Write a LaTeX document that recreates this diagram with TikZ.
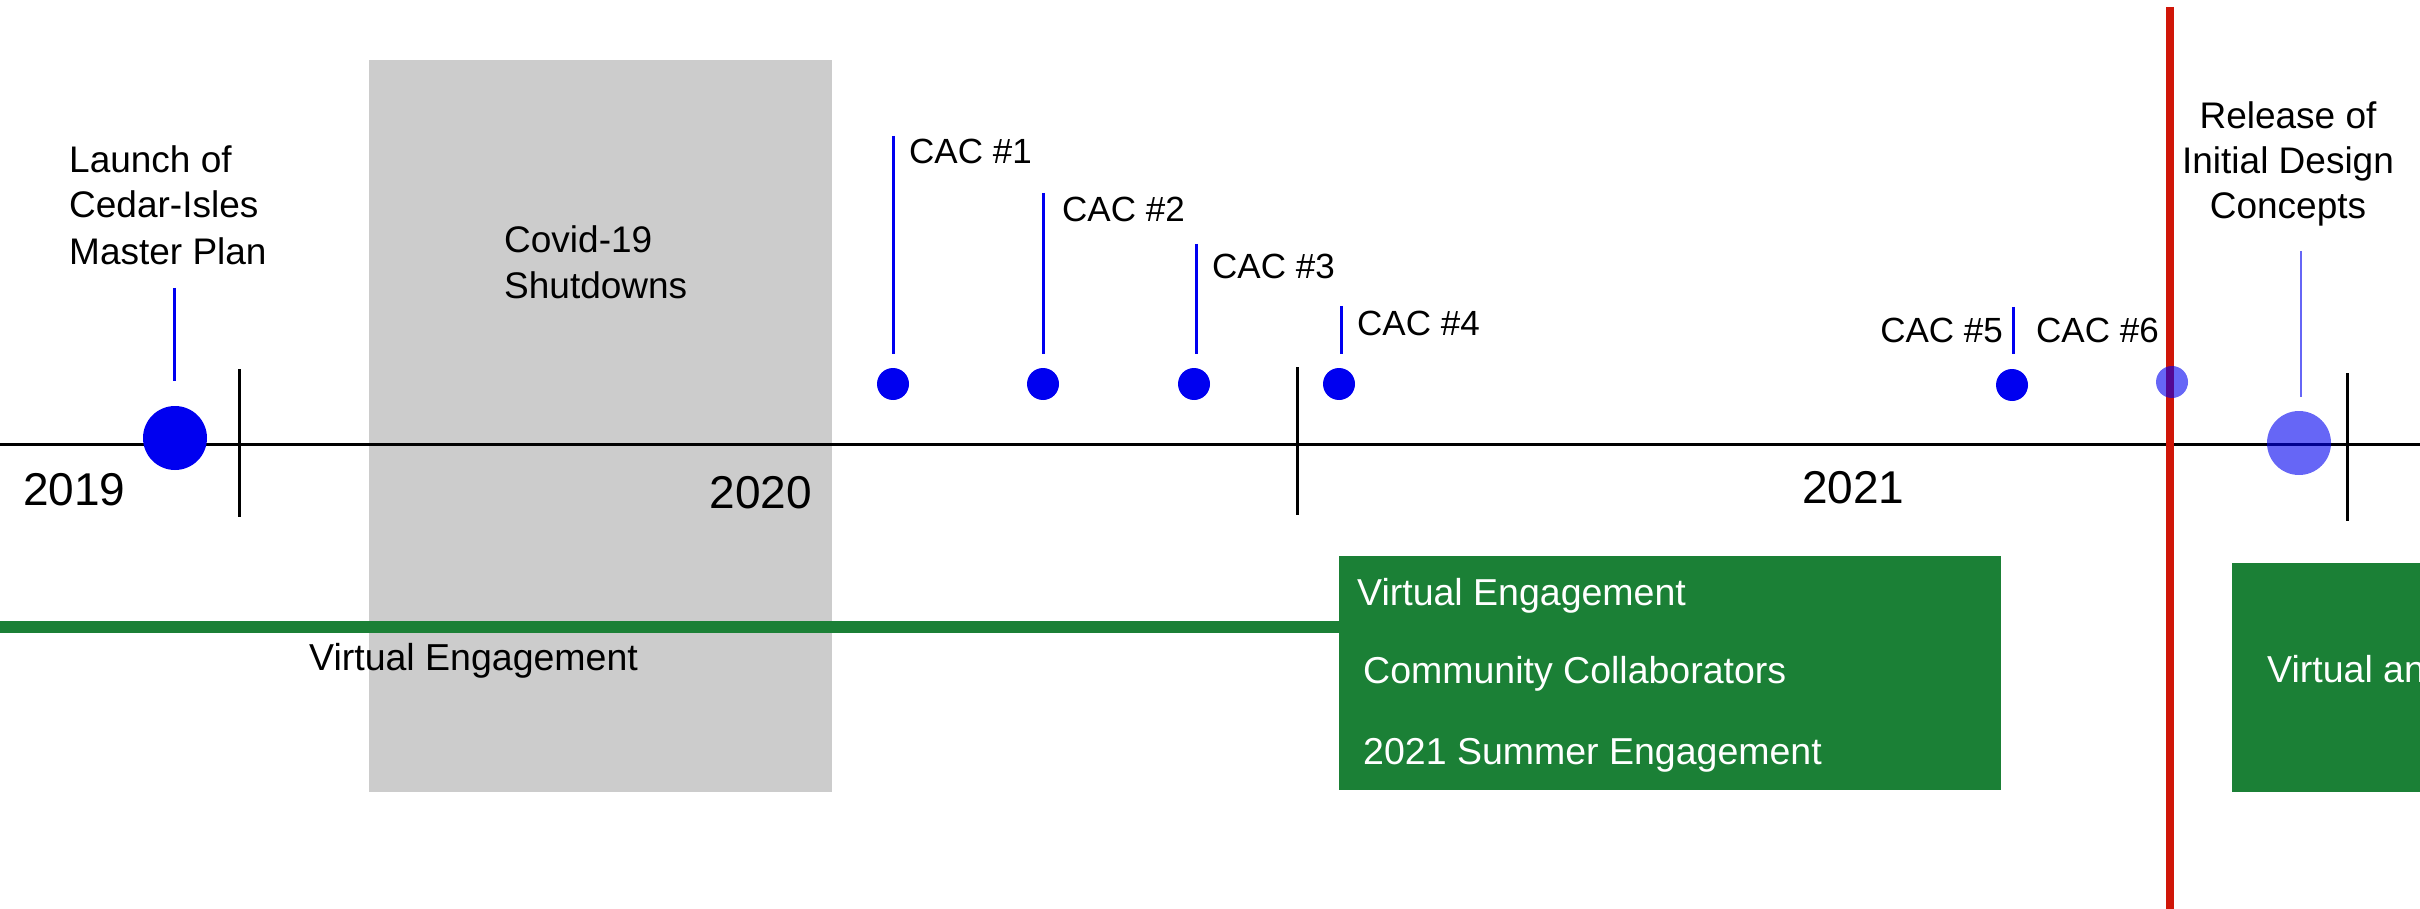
\documentclass[tikz,border=0pt]{standalone}
\usepackage{fontspec}
\setmainfont{Liberation Sans}
\definecolor{dotblue}{RGB}{0,0,240}
\definecolor{boxgreen}{RGB}{27,128,54}
\definecolor{covidgray}{RGB}{204,204,204}
\definecolor{nowred}{RGB}{208,22,8}
\begin{document}
\begin{tikzpicture}[x=1pt,y=-1pt,
  lbl/.style={inner sep=0pt, anchor=base west, font=\fontsize{37}{45}\selectfont},
  clbl/.style={inner sep=0pt, anchor=base, font=\fontsize{37}{45}\selectfont},
  caclbl/.style={inner sep=0pt, anchor=base west, font=\fontsize{35}{42}\selectfont},
  boxlbl/.style={inner sep=0pt, anchor=base west, text=white, font=\fontsize{37.5}{44}\selectfont},
  englbl/.style={inner sep=0pt, anchor=base west, font=\fontsize{37.5}{44}\selectfont},
  yearlbl/.style={inner sep=0pt, font=\fontsize{46}{52}\selectfont},
  dot/.style={circle, fill=dotblue, inner sep=0pt, minimum size=32pt},
  bigdot/.style={circle, fill=dotblue, inner sep=0pt, minimum size=64pt},
  fadedot/.style={circle, fill=dotblue, fill opacity=0.6, inner sep=0pt},
  stem/.style={draw=dotblue, line width=3pt},
  faintstem/.style={draw=dotblue!60, line width=2pt},
  tick/.style={draw=black, line width=3pt},
  axisline/.style={draw=black, line width=3pt}
]
\useasboundingbox (0,0) rectangle (2420,909);

% Covid shutdown band
\fill[covidgray] (369,60) rectangle (832,792);
\node[lbl] (cov1) at (504,253) {Covid-19};
\node[lbl] (cov2) at (504,299) {Shutdowns};

% green boxes
\node[fill=boxgreen, inner sep=0pt, anchor=north west, minimum width=662pt, minimum height=234pt] (box1) at (1339,556) {};
\begin{scope}
  \clip (2232,563) rectangle (2420,792);
  \node[fill=boxgreen, inner sep=0pt, anchor=north west, minimum width=188pt, minimum height=229pt] (box2) at (2232,563) {};
  \node[boxlbl] (b2t) at (2267,682) {Virtual and};
\end{scope}

% virtual engagement line
\coordinate (gstart) at (0,627);
\draw[boxgreen, line width=12pt] (gstart) -- (box1.west |- gstart);
\node[englbl] (ve) at (309,670) {Virtual Engagement};

\node[boxlbl] (b1a) at (1357,605) {Virtual Engagement};
\node[boxlbl] (b1b) at (1363,683) {Community Collaborators};
\node[boxlbl] (b1c) at (1363,764) {2021 Summer Engagement};

% axis
\coordinate (axL) at (0,444);
\coordinate (axR) at (2420,444);
\draw[axisline] (axL) -- (axR);
\coordinate (t1a) at (239,369); \coordinate (t1b) at (239,517);
\coordinate (t2a) at (1297,367); \coordinate (t2b) at (1297,515);
\coordinate (t3a) at (2347,373); \coordinate (t3b) at (2347,521);
\draw[tick] (t1a) -- (t1b);
\draw[tick] (t2a) -- (t2b);
\draw[tick] (t3a) -- (t3b);

\node[yearlbl, anchor=base west] (y2019) at (23,505) {2019};
\node[yearlbl, anchor=base east] (y2020) at (812,508) {2020};
\node[yearlbl, anchor=base west] (y2021) at (1802,503) {2021};

% launch
\node[bigdot] (launch) at (175,438) {};
\coordinate (ls) at (174,288);
\draw[stem] (ls) -- ++(0,93);
\node[lbl] (l1) at (69,173) {Launch of};
\node[lbl] (l2) at (69,218) {Cedar-Isles};
\node[lbl] (l3) at (69,265) {Master Plan};

% CAC meetings
\node[dot] (c1) at (893,384) {};
\node[dot] (c2) at (1043,384) {};
\node[dot] (c3) at (1194,384) {};
\node[dot] (c4) at (1339,384) {};
\node[dot] (c5) at (2012,385) {};
\coordinate (s1) at (893,136);
\coordinate (s2) at (1043,193);
\coordinate (s3) at (1196,244);
\coordinate (s4) at (1341,306);
\coordinate (s5) at (2013,307);
\draw[stem] (s1) -- (s1 |- 0,354);
\draw[stem] (s2) -- (s2 |- 0,354);
\draw[stem] (s3) -- (s3 |- 0,354);
\draw[stem] (s4) -- (s4 |- 0,354);
\draw[stem] (s5) -- (s5 |- 0,354);
\node[caclbl] (cac1) at (909,164) {CAC \#1};
\node[caclbl] (cac2) at (1062,222) {CAC \#2};
\node[caclbl] (cac3) at (1212,279) {CAC \#3};
\node[caclbl] (cac4) at (1357,335) {CAC \#4};
\node[caclbl, anchor=base east] (cac5) at (2003,342) {CAC \#5};
\node[caclbl] (cac6) at (2036,342) {CAC \#6};

% today line
\coordinate (rtop) at (2170,7);
\coordinate (rbot) at (2170,909);
\draw[nowred, line width=8pt] (rtop) -- (rbot);

% faded items
\node[fadedot, minimum size=32pt] (c6) at (2172,382) {};
\node[fadedot, minimum size=64pt] (rel) at (2299,443) {};
\coordinate (rs) at (2301,251);
\draw[faintstem] (rs) -- (rs |- 0,397);
\node[clbl] (r1) at (2288,129) {Release of};
\node[clbl] (r2) at (2288,174) {Initial Design};
\node[clbl] (r3) at (2288,219) {Concepts};
\end{tikzpicture}
\end{document}
